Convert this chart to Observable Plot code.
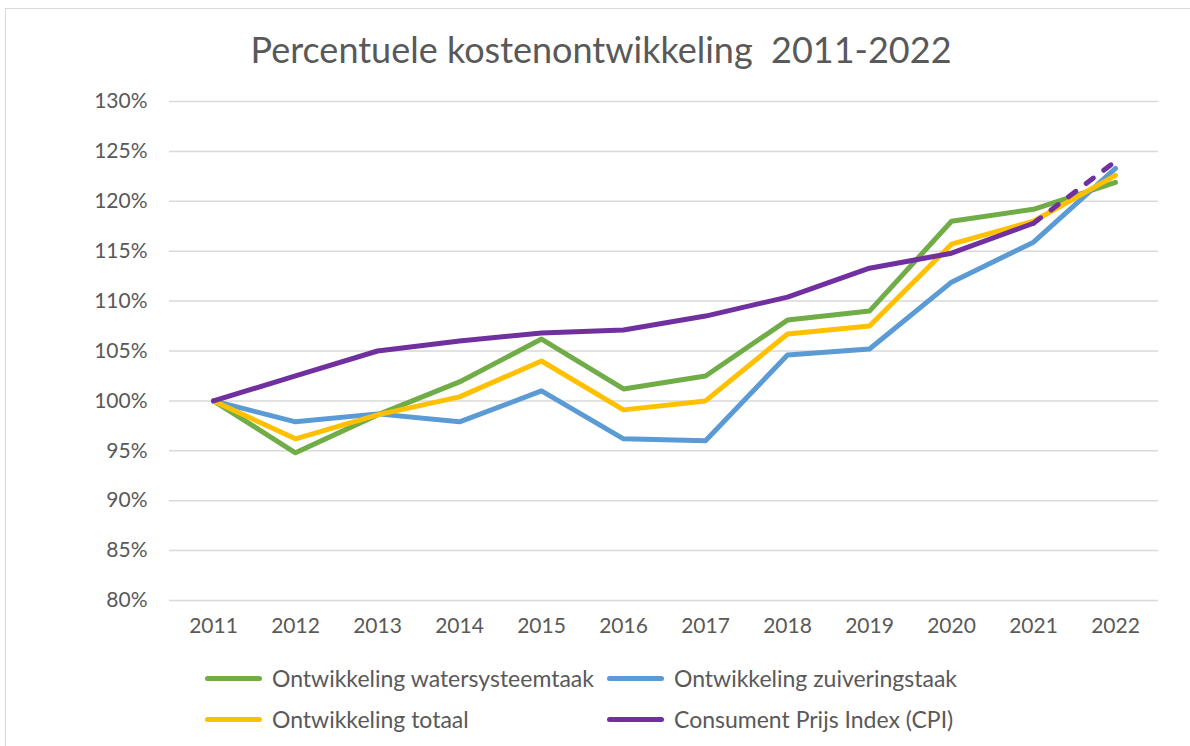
<!DOCTYPE html>
<html>
<head>
<meta charset="utf-8">
<script src="https://cdn.jsdelivr.net/npm/d3@7"></script>
<script src="https://cdn.jsdelivr.net/npm/@observablehq/plot@0.6"></script>
<style>
  html, body { margin: 0; padding: 0; background: #fff; overflow: hidden; }
  body { width: 1190px; height: 746px; position: relative; font-family: Lato, "Open Sans", sans-serif; color: #595959; }
  #frame { position: absolute; left: 5px; top: 8px; width: 1200px; height: 760px; border-left: 1.5px solid #d9d9d9; border-top: 1.5px solid #d9d9d9; box-sizing: border-box; }
  #title { position: absolute; left: 6px; width: 1190px; top: 27px; text-align: center; font-size: 36px; color: #595959; white-space: pre; }
  #chart { position: absolute; left: 0; top: 70px; }
  .leg { position: absolute; display: flex; align-items: center; font-size: 23px; color: #595959; white-space: nowrap; }
  .leg .sw { width: 57px; height: 5px; border-radius: 3px; margin-right: 10px; }
</style>
</head>
<body>
<div id="frame"></div>
<div id="title">Percentuele kostenontwikkeling  2011-2022</div>
<div id="chart"></div>
<div id="legend"></div>
<script>
const years = [2011, 2012, 2013, 2014, 2015, 2016, 2017, 2018, 2019, 2020, 2021, 2022];
const watersysteem = [100, 94.8, 98.6, 101.9, 106.2, 101.2, 102.5, 108.1, 109.0, 118.0, 119.2, 121.9];
const zuivering    = [100, 97.9, 98.7, 97.9, 101.0, 96.2, 96.0, 104.6, 105.2, 111.9, 115.9, 123.3];
const totaal       = [100, 96.2, 98.6, 100.4, 104.0, 99.1, 100.0, 106.7, 107.5, 115.7, 118.0, 122.6];
const cpi          = [100, 102.5, 105.0, 106.0, 106.8, 107.1, 108.5, 110.4, 113.3, 114.8, 117.8, 124.0];
const yTicks = [80, 85, 90, 95, 100, 105, 110, 115, 120, 125, 130];

const seriesNames = ["Ontwikkeling watersysteemtaak", "Ontwikkeling zuiveringstaak", "Ontwikkeling totaal", "Consument Prijs Index (CPI)"];
const seriesColors = ["#70AD47", "#5B9BD5", "#FFC000", "#7030A0"];
const seriesValues = [watersysteem, zuivering, totaal, cpi];

const rows = (vals) => years.map((y, i) => ({year: y, v: vals[i]}));
const cpiRows = rows(cpi);
const cpiSolid = cpiRows.slice(0, years.length - 1);
const cpiDashed = cpiRows.slice(years.length - 2);

const lineMarks = [0, 1, 2].map(k => Plot.line(rows(seriesValues[k]), {
  x: "year", y: "v", stroke: seriesColors[k], strokeWidth: 5, strokeLinecap: "round", strokeLinejoin: "round"
}));

const chart = Plot.plot({
  width: 1190,
  height: 589,
  marginLeft: 169,
  marginRight: 32,
  marginTop: 31,
  marginBottom: 59,
  style: { fontFamily: "Lato, 'Open Sans', sans-serif", fontSize: "21px", color: "#595959", background: "transparent" },
  x: { type: "point", domain: years, padding: 0.5 },
  y: { domain: [80, 130] },
  marks: [
    Plot.ruleY(yTicks, { stroke: "#d9d9d9", strokeWidth: 1.5 }),
    Plot.axisY({ ticks: yTicks, tickFormat: d => d + "%", tickSize: 0, tickPadding: 22, label: null, fontSize: 21, fill: "#595959" }),
    Plot.axisX({ tickSize: 0, tickPadding: 18, tickFormat: d => String(d), label: null, fontSize: 21, fill: "#595959" }),
    ...lineMarks,
    Plot.line(cpiSolid, { x: "year", y: "v", stroke: seriesColors[3], strokeWidth: 5, strokeLinecap: "round", strokeLinejoin: "round" }),
    Plot.line(cpiDashed, { x: "year", y: "v", stroke: seriesColors[3], strokeWidth: 5, strokeLinecap: "round", strokeDasharray: "9,13" })
  ]
});
document.getElementById("chart").appendChild(chart);

const legendPos = [
  { left: 205, top: 678 },
  { left: 607, top: 678 },
  { left: 205, top: 719 },
  { left: 607, top: 719 }
];
const legend = document.getElementById("legend");
seriesNames.forEach((name, i) => {
  const d = document.createElement("div");
  d.className = "leg";
  d.style.left = legendPos[i].left + "px";
  d.style.top = (legendPos[i].top - 14) + "px";
  d.style.height = "28px";
  d.innerHTML = `<span class="sw" style="background:${seriesColors[i]}"></span><span>${name}</span>`;
  legend.appendChild(d);
});
</script>
</body>
</html>
